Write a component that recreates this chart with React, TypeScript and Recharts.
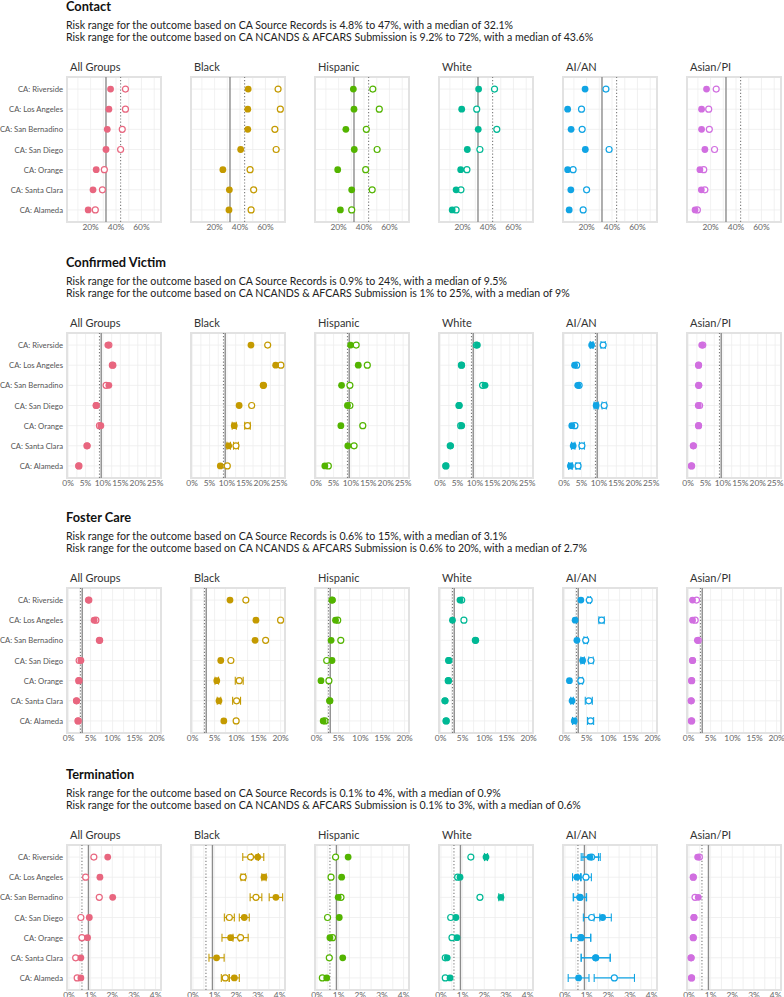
import {
  ScatterChart,
  Scatter,
  XAxis,
  YAxis,
  CartesianGrid,
  ReferenceLine,
  ReferenceArea,
  ErrorBar,
} from 'recharts'

const FONT = 'Lato, "Open Sans", sans-serif'

const counties = [
  'CA: Riverside',
  'CA: Los Angeles',
  'CA: San Bernadino',
  'CA: San Diego',
  'CA: Orange',
  'CA: Santa Clara',
  'CA: Alameda',
]
const groups = ['All Groups', 'Black', 'Hispanic', 'White', 'AI/AN', 'Asian/PI']
const groupColors = ['#E8667F', '#C49A00', '#53B400', '#00B895', '#10A4E4', '#D16FE0']

const sectionTitles = ['Contact', 'Confirmed Victim', 'Foster Care', 'Termination']
const sourceSubtitles = [
  'Risk range for the outcome based on CA Source Records is 4.8% to 47%, with a median of 32.1%',
  'Risk range for the outcome based on CA Source Records is 0.9% to 24%, with a median of 9.5%',
  'Risk range for the outcome based on CA Source Records is 0.6% to 15%, with a median of 3.1%',
  'Risk range for the outcome based on CA Source Records is 0.1% to 4%, with a median of 0.9%',
]
const ncandsSubtitles = [
  'Risk range for the outcome based on CA NCANDS & AFCARS Submission is 9.2% to 72%, with a median of 43.6%',
  'Risk range for the outcome based on CA NCANDS & AFCARS Submission is 1% to 25%, with a median of 9%',
  'Risk range for the outcome based on CA NCANDS & AFCARS Submission is 0.6% to 20%, with a median of 2.7%',
  'Risk range for the outcome based on CA NCANDS & AFCARS Submission is 0.1% to 3%, with a median of 0.6%',
]
const sourceMedians = [32.1, 9.5, 3.1, 0.9]
const ncandsMedians = [43.6, 9, 2.7, 0.6]

const xDomains = [
  [1.44, 75.36],
  [-0.33, 26.68],
  [-0.36, 21.0],
  [-0.09, 4.25],
]
const xTicks = [
  [20, 40, 60],
  [0, 5, 10, 15, 20, 25],
  [0, 5, 10, 15, 20],
  [0, 1, 2, 3, 4],
]
const xGrid = [
  [10, 20, 30, 40, 50, 60, 70],
  [0, 2.5, 5, 7.5, 10, 12.5, 15, 17.5, 20, 22.5, 25],
  [0, 2.5, 5, 7.5, 10, 12.5, 15, 17.5, 20],
  [0, 0.5, 1, 1.5, 2, 2.5, 3, 3.5, 4],
]

// one row per group, one value per county (percent)
const contactSource = [
  [35.7, 34.4, 33.1, 32.1, 24.4, 21.9, 18.1],
  [46.4, 46.1, 46.1, 40.5, 26.5, 31.6, 31.3],
  [31.6, 32.1, 25.7, 32.3, 19.3, 30.3, 21.4],
  [32.6, 19.3, 32.3, 23.7, 18.5, 14.9, 11.8],
  [18.8, 5.1, 7.8, 19.0, 5.1, 7.6, 6.3],
  [16.8, 12.9, 12.9, 15.5, 11.6, 12.7, 7.8],
]
const contactNcands = [
  [47.4, 47.4, 44.9, 43.6, 30.8, 29.3, 23.7],
  [69.9, 71.7, 67.4, 68.4, 47.9, 50.7, 48.7],
  [46.9, 52.0, 41.8, 50.3, 41.3, 46.4, 30.3],
  [45.1, 31.1, 46.9, 33.6, 23.4, 18.7, 14.9],
  [35.2, 16.0, 16.5, 37.7, 9.4, 20.0, 17.3],
  [24.4, 18.5, 19.0, 23.1, 14.6, 15.5, 9.6],
]

const victimSource = [
  [11.4, 12.9, 11.7, 8.0, 9.4, 5.5, 3.0],
  [16.9, 24.0, 20.4, 13.5, 12.1, 10.5, 8.1],
  [9.9, 12.1, 7.3, 9.0, 7.1, 9.1, 2.5],
  [10.7, 6.2, 12.9, 5.5, 6.2, 3.0, 1.7],
  [7.9, 3.0, 3.9, 9.2, 2.2, 2.6, 1.8],
  [3.9, 3.0, 3.1, 2.9, 3.0, 1.5, 0.9],
]
const victimNcands = [
  [11.7, 12.7, 10.9, 8.1, 9.0, 5.4, 3.1],
  [21.7, 25.5, 20.5, 17.1, 15.9, 12.6, 10.1],
  [11.5, 14.7, 9.7, 9.7, 13.4, 10.9, 3.5],
  [10.4, 6.1, 12.2, 5.4, 5.9, 2.9, 1.6],
  [11.2, 3.6, 4.3, 11.5, 3.1, 5.1, 4.0],
  [4.2, 3.0, 3.0, 3.3, 3.0, 1.5, 1.0],
]
const victimSourceErr = [
  [0, 0, 0, 0, 0, 0, 0],
  [0, 0, 0, 0, 0.6, 0.5, 0],
  [0, 0, 0, 0, 0, 0, 0],
  [0, 0, 0, 0, 0, 0, 0],
  [0.4, 0, 0, 0.6, 0, 0.5, 0.5],
  [0, 0, 0, 0, 0, 0, 0],
]
const victimNcandsErr = [
  [0, 0, 0, 0, 0, 0, 0],
  [0, 0, 0, 0, 0.8, 0.7, 0],
  [0, 0, 0, 0, 0, 0, 0],
  [0, 0, 0, 0, 0, 0, 0],
  [0.6, 0, 0, 0.6, 0, 0.7, 0.6],
  [0, 0, 0, 0, 0, 0, 0],
]

const fosterSource = [
  [4.5, 5.8, 7.1, 2.8, 2.4, 1.8, 2.1],
  [8.5, 14.4, 14.2, 6.4, 5.5, 6.0, 7.1],
  [3.6, 4.3, 3.3, 3.5, 1.0, 3.0, 1.5],
  [4.4, 2.7, 8.0, 1.8, 1.7, 1.0, 1.2],
  [3.7, 2.4, 2.8, 4.1, 1.1, 1.7, 2.2],
  [0.9, 0.9, 2.0, 0.9, 0.7, 0.6, 0.6],
]
const fosterNcands = [
  [4.6, 6.2, 7.0, 2.4, 2.3, 1.8, 2.2],
  [12.1, 20.0, 16.6, 8.7, 10.6, 10.0, 9.9],
  [3.5, 4.8, 5.5, 2.3, 2.8, 3.0, 1.9],
  [4.8, 5.3, 7.9, 1.9, 1.8, 1.0, 1.3],
  [5.6, 8.4, 4.8, 6.0, 3.7, 5.5, 5.9],
  [1.8, 1.5, 2.2, 0.9, 0.7, 0.6, 0.7],
]
const fosterSourceErr = [
  [0, 0, 0, 0, 0, 0, 0],
  [0, 0, 0, 0, 0.4, 0.4, 0],
  [0, 0, 0, 0, 0, 0, 0],
  [0, 0, 0, 0, 0, 0, 0],
  [0, 0, 0, 0.4, 0, 0.3, 0.4],
  [0, 0, 0, 0, 0, 0, 0],
]
const fosterNcandsErr = [
  [0, 0, 0, 0, 0, 0, 0],
  [0, 0, 0, 0, 0.9, 0.9, 0],
  [0, 0, 0, 0, 0, 0, 0],
  [0, 0, 0, 0, 0, 0, 0],
  [0.3, 0.6, 0.4, 0.5, 0.4, 0.8, 0.7],
  [0, 0, 0, 0, 0, 0, 0],
]

const terminationSource = [
  [1.79, 1.43, 2.02, 0.94, 0.86, 0.55, 0.55],
  [2.99, 3.28, 3.83, 2.37, 1.74, 1.09, 1.91],
  [1.44, 1.14, 0.98, 1.03, 0.6, 1.19, 0.45],
  [2.08, 0.88, 2.77, 0.69, 0.74, 0.29, 0.42],
  [1.15, 0.55, 0.68, 1.74, 0.74, 1.42, 0.63],
  [0.4, 0.2, 0.43, 0.23, 0.2, 0.1, 0.12],
]
const terminationNcands = [
  [1.15, 0.77, 1.4, 0.55, 0.6, 0.31, 0.38],
  [2.66, 2.32, 2.91, 1.68, 2.2, null, 1.49],
  [0.86, 0.65, 1.11, 0.49, 0.72, 0.57, 0.25],
  [1.38, 0.77, 1.8, 0.45, 0.51, 0.2, 0.2],
  [1.23, 0.97, 0.7, 1.23, 0.74, 1.42, 2.28],
  [0.48, 0.2, 0.28, 0.23, 0.2, 0.1, 0.12],
]
const terminationSourceErr = [
  [0, 0, 0, 0, 0, 0, 0],
  [0.28, 0.1, 0.31, 0.23, 0.4, 0.35, 0.23],
  [0, 0, 0, 0, 0, 0, 0],
  [0.07, 0, 0.1, 0, 0, 0, 0],
  [0.4, 0.2, 0.3, 0.4, 0.45, 0.67, 0.48],
  [0, 0, 0, 0, 0, 0, 0],
]
const terminationNcandsErr = [
  [0, 0, 0, 0, 0, 0, 0],
  [0.36, 0.1, 0.27, 0.23, 0.35, 0, 0.18],
  [0, 0, 0, 0, 0, 0, 0],
  [0, 0, 0, 0, 0, 0, 0],
  [0.4, 0.25, 0.3, 0.38, 0.45, 0.67, 0.93],
  [0, 0, 0, 0, 0, 0, 0],
]

const sourceValues = [contactSource, victimSource, fosterSource, terminationSource]
const ncandsValues = [contactNcands, victimNcands, fosterNcands, terminationNcands]
const sourceErrors = [null, victimSourceErr, fosterSourceErr, terminationSourceErr]
const ncandsErrors = [null, victimNcandsErr, fosterNcandsErr, terminationNcandsErr]

// layout
const SECTION_TOPS = [0, 256, 511, 768]
const PLOT_TOP = 76.5
const PLOT_W = 94
const PLOT_H = 145
const PANEL_STEP = 124
const FIRST_PLOT_LEFT = 67
const Y_LABEL_W = 65
const X_AXIS_H = 16
const SIDE = 12
const Y_DOMAIN: [number, number] = [0.4, 7.6]
const rowTicks = [1, 2, 3, 4, 5, 6, 7]

function buildRows(values: (number | null)[], errs: number[] | null) {
  return values
    .map((v, i) => ({ county: counties[i], row: i + 1, value: v, err: errs ? errs[i] : 0 }))
    .filter((d) => d.value !== null)
}

function CountyTick(p: any) {
  return (
    <text
      x={p.x}
      y={p.y}
      dy={3}
      textAnchor="end"
      fontSize={7.7}
      fill="#555"
      fontFamily={FONT}
    >
      {counties[p.payload.value - 1]}
    </text>
  )
}

function Panel({ s, g }: { s: number; g: number }) {
  const color = groupColors[g]
  const first = g === 0
  const src = buildRows(sourceValues[s][g], sourceErrors[s] ? sourceErrors[s]![g] : null)
  const nc = buildRows(ncandsValues[s][g], ncandsErrors[s] ? ncandsErrors[s]![g] : null)
  const domain = xDomains[s] as [number, number]
  const plotLeft = FIRST_PLOT_LEFT + g * PANEL_STEP
  const leftMargin = first ? 2 : SIDE
  const left = plotLeft - leftMargin - (first ? Y_LABEL_W : 0)
  const width = PLOT_W + leftMargin + SIDE + (first ? Y_LABEL_W : 0)

  return (
    <div style={{ position: 'absolute', left, top: SECTION_TOPS[s] + PLOT_TOP - 2 }}>
      <ScatterChart
        width={width}
        height={PLOT_H + 2 + X_AXIS_H}
        margin={{ top: 2, right: SIDE, bottom: 0, left: leftMargin }}
      >
        <CartesianGrid
          stroke="#eeeeee"
          strokeWidth={0.8}
          verticalValues={xGrid[s]}
          horizontalValues={rowTicks}
        />
        <XAxis
          type="number"
          dataKey="value"
          domain={domain}
          allowDataOverflow
          ticks={xTicks[s]}
          interval={0}
          tickFormatter={(v) => `${v}%`}
          tickLine={false}
          axisLine={false}
          tickSize={2}
          tickMargin={0}
          height={X_AXIS_H}
          tick={{ fontSize: 8.4, fill: '#666', fontFamily: FONT }}
        />
        <YAxis
          type="number"
          dataKey="row"
          domain={Y_DOMAIN}
          reversed
          allowDataOverflow
          ticks={rowTicks}
          interval={0}
          hide={!first}
          width={Y_LABEL_W}
          tick={<CountyTick />}
          tickLine={false}
          axisLine={false}
          tickSize={0}
          tickMargin={4}
        />
        <ReferenceArea
          x1={domain[0]}
          x2={domain[1]}
          y1={Y_DOMAIN[0]}
          y2={Y_DOMAIN[1]}
          fill="none"
          fillOpacity={0}
          stroke="#e2e2e2"
          strokeWidth={2}
        />
        <ReferenceLine x={sourceMedians[s]} stroke="#8c8c8c" strokeWidth={1.4} />
        <ReferenceLine x={ncandsMedians[s]} stroke="#7a7a7a" strokeWidth={1.1} strokeDasharray="1.2 2" />
        <Scatter
          data={nc}
          isAnimationActive={false}
          shape={(p: any) => (
            <circle cx={p.cx} cy={p.cy} r={3} fill="#fff" stroke={color} strokeWidth={1.2} />
          )}
        >
          <ErrorBar dataKey="err" direction="x" width={4} stroke={color} strokeWidth={1.1} />
        </Scatter>
        <Scatter
          data={src}
          isAnimationActive={false}
          shape={(p: any) => <circle cx={p.cx} cy={p.cy} r={3.4} fill={color} />}
        >
          <ErrorBar dataKey="err" direction="x" width={4} stroke={color} strokeWidth={1.1} />
        </Scatter>
      </ScatterChart>
    </div>
  )
}

function Section({ s }: { s: number }) {
  const top = SECTION_TOPS[s]
  return (
    <>
      <div
        style={{
          position: 'absolute',
          left: 66,
          top: top + 0.5,
          fontSize: 12.8,
          lineHeight: '11px',
          fontWeight: 700,
          color: '#111',
          fontFamily: FONT,
          whiteSpace: 'nowrap',
        }}
      >
        {sectionTitles[s]}
      </div>
      <div
        style={{
          position: 'absolute',
          left: 66,
          top: top + 19,
          fontSize: 10.6,
          lineHeight: '12.3px',
          color: '#222',
          fontFamily: FONT,
          whiteSpace: 'nowrap',
        }}
      >
        <div>{sourceSubtitles[s]}</div>
        <div>{ncandsSubtitles[s]}</div>
      </div>
      {groups.map((name, g) => (
        <div
          key={name}
          style={{
            position: 'absolute',
            left: FIRST_PLOT_LEFT + g * PANEL_STEP + 3,
            top: top + 60,
            fontSize: 11,
            lineHeight: '14px',
            color: '#333',
            fontFamily: FONT,
            whiteSpace: 'nowrap',
          }}
        >
          {name}
        </div>
      ))}
      {groups.map((name, g) => (
        <Panel key={name} s={s} g={g} />
      ))}
    </>
  )
}

export default function App() {
  return (
    <div
      style={{
        position: 'absolute',
        left: 0,
        top: 0,
        width: 784,
        height: 997,
        overflow: 'hidden',
        background: '#fff',
      }}
    >
      {sectionTitles.map((t, s) => (
        <Section key={t} s={s} />
      ))}
    </div>
  )
}
